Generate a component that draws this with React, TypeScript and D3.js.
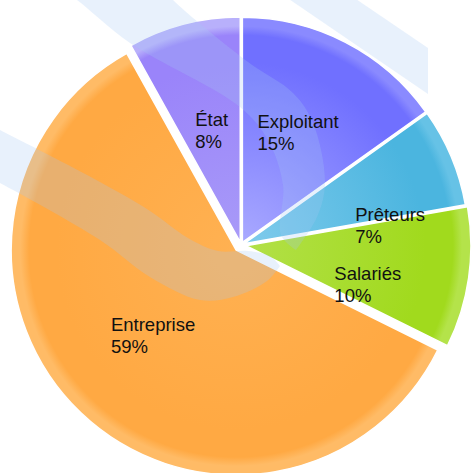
import { useEffect, useRef } from 'react'
import * as d3 from 'd3'

// slices, clockwise from 12 o'clock
const categories = ['Exploitant', 'Prêteurs', 'Salariés', 'Entreprise', 'État']
const shares = [15, 7, 10, 59, 8]

const palette = [
  { base: '#7070ff', light: '#a9a9ff', rim: '#8a8aff' },
  { base: '#4bb5df', light: '#7fcbec', rim: '#66c2e6' },
  { base: '#a1da1d', light: '#b2e048', rim: '#b4e34a' },
  { base: '#ffa943', light: '#ffb152', rim: '#ffbb66' },
  { base: '#9a84fa', light: '#a89af8', rim: '#b8b0fb' },
]
const explode = [3, 3, 5, 7, 3]

export default function App() {
  const svgRef = useRef<SVGSVGElement>(null)

  useEffect(() => {
    document.body.style.margin = '0'
    if (!svgRef.current) return
    const svg = d3.select(svgRef.current)
    svg.selectAll('*').remove()

    const width = 472
    const height = 473
    const cx = 241
    const cy = 245
    const r = 225

    svg.attr('width', width).attr('height', height)
    const defs = svg.append('defs')

    const pie = d3.pie<number>().sort(null).value((d) => d)
    const arcs = pie(shares)
    const arc = d3.arc<d3.PieArcDatum<number>>().innerRadius(0).outerRadius(r)

    const root = svg.append('g').attr('transform', `translate(${cx},${cy})`)

    // gradients per slice
    arcs.forEach((a, i) => {
      const c = palette[i]
      const g = defs
        .append('radialGradient')
        .attr('id', `grad${i}`)
        .attr('gradientUnits', 'userSpaceOnUse')
        .attr('cx', 0)
        .attr('cy', 0)
        .attr('r', r)
      g.append('stop').attr('offset', 0).attr('stop-color', c.light)
      g.append('stop').attr('offset', 0.8).attr('stop-color', c.base)
      g.append('stop').attr('offset', 0.92).attr('stop-color', c.base)
      g.append('stop').attr('offset', 0.96).attr('stop-color', c.rim)
      g.append('stop').attr('offset', 1).attr('stop-color', c.rim)
    })

    const offset = (a: d3.PieArcDatum<number>, i: number) => {
      const mid = (a.startAngle + a.endAngle) / 2
      return [Math.sin(mid) * explode[i], -Math.cos(mid) * explode[i]]
    }

    root
      .selectAll('path.slice')
      .data(arcs)
      .enter()
      .append('path')
      .attr('class', 'slice')
      .attr('transform', (a, i) => {
        const [dx, dy] = offset(a, i)
        return `translate(${dx},${dy})`
      })
      .attr('d', arc)
      .attr('fill', (_, i) => `url(#grad${i})`)
      .attr('stroke', '#ffffff')
      .attr('stroke-width', 1.5)
      .attr('stroke-linejoin', 'round')

    // faint watermark swooshes
    const mark = svg.append('g').attr('fill', 'rgb(163,199,243)').attr('fill-opacity', 0.25)
    const smooth = d3.line().curve(d3.curveCatmullRom.alpha(0.5))
    const band = (top: [number, number][], bottom: [number, number][]) =>
      smooth(top)! + 'L' + smooth(bottom)!.slice(1) + 'Z'

    mark.append('path').attr(
      'd',
      band(
        [[-20, 120], [0, 130], [100, 182], [150, 211], [188, 238], [218, 251], [248, 251], [270, 256], [280, 266]],
        [[280, 266], [267, 281], [233, 297], [200, 300], [150, 277], [100, 240], [0, 183], [-20, 173]],
      ),
    )
    mark.append('path').attr(
      'd',
      band(
        [[62, -10], [77, 0], [130, 43], [240, 107], [268, 140], [283, 185], [281, 235], [296, 250]],
        [[296, 250], [317, 217], [325, 183], [313, 123], [293, 93], [248, 62], [173, 0], [165, -10]],
      ),
    )
    mark.append('path').attr('d', 'M283,-5L350,-5L428,48L428,94Z')

    // labels
    const labelFont = '"Liberation Sans", Arial, sans-serif'
    const tweak: Record<string, [number, number]> = {
      'Prêteurs': [16, 0.655],
      'Salariés': [10, 0.57],
      'État': [0, 0.505],
      'Entreprise': [0, 0.535],
    }
    arcs.forEach((a, i) => {
      const name = categories[i]
      const [dAng, rf] = tweak[name] ?? [0, 0.54]
      const mid = (a.startAngle + a.endAngle) / 2 + (dAng * Math.PI) / 180
      const [ox, oy] = offset(a, i)
      const px = cx + ox + Math.sin(mid) * r * rf
      const py = cy + oy - Math.cos(mid) * r * rf
      const lg = svg
        .append('g')
        .attr('font-family', labelFont)
        .attr('font-size', '18.5px')
        .attr('fill', '#111111')
      lg.append('text').attr('x', 0).attr('y', -6).text(name)
      lg.append('text').attr('x', 0).attr('y', 16).text(`${shares[i]}%`)
      const w = (lg.node() as SVGGElement).getBBox().width
      lg.attr('transform', `translate(${px - w / 2},${py})`)
    })
  }, [])

  return <svg ref={svgRef} style={{ display: 'block' }} />
}
